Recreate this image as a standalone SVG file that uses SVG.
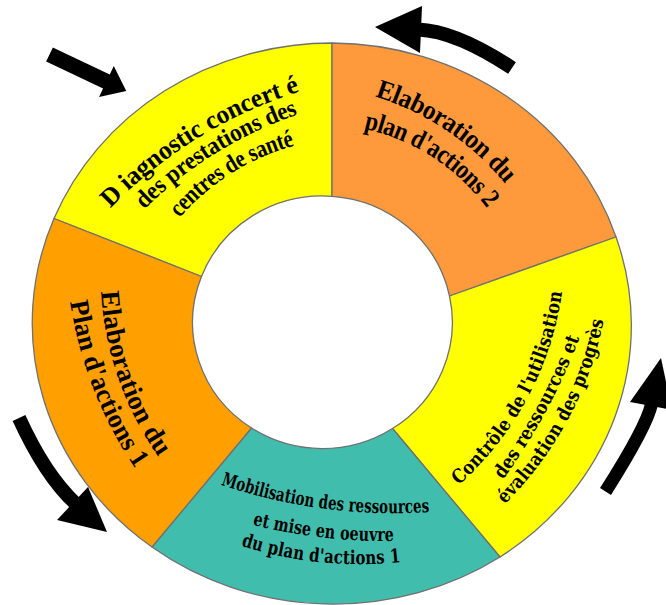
<svg xmlns="http://www.w3.org/2000/svg" width="666" height="605" viewBox="0 0 666 605">
<defs>
<style>
.seg { stroke:#707070; stroke-width:1.3; stroke-linejoin:round; }
.t { font-family:"Liberation Serif","Times New Roman",serif; font-weight:bold; fill:#000; dominant-baseline:central; }
.t2 { font-family:"DejaVu Serif","Liberation Serif",serif; font-weight:bold; fill:#000; dominant-baseline:central; }
.shaft { fill:none; stroke:#000; stroke-linecap:butt; }
.head { fill:#000; }
</style>
<path id="p1a" d="M104,202 A460,460 0 0 1 297,83"/>
<path id="p1b" d="M138,203 A410,410 0 0 1 295,106"/>
<path id="p1c" d="M173,212 A240,240 0 0 1 292,137"/>
<path id="p2a" d="M378,88 A280,280 0 0 1 512,178"/>
<path id="p2b" d="M366,120 A215,215 0 0 1 494,203"/>
<path id="p3a" d="M110,291 A310,310 0 0 0 166,452"/>
<path id="p3b" d="M79,300 A400,400 0 0 0 143,464"/>
<path id="p4a" d="M223,478 A530,530 0 0 0 429,505"/>
<path id="p4b" d="M254,518 A550,550 0 0 0 394,534"/>
<path id="p4c" d="M243,539 A380,380 0 0 0 400,555"/>
<path id="p5a" d="M454,480 A310,310 0 0 0 555,291"/>
<path id="p5b" d="M497,476 A600,600 0 0 0 573,335"/>
<path id="p5c" d="M499,500 A350,350 0 0 0 597,318"/>
</defs>
<rect width="666" height="605" fill="#fff"/>

<g id="seg-diagnostic">
<path class="seg" fill="#FFFF00" d="M54,218.5 A300,280 0 0 1 332,43 L332,196.3 A129.5,126 0 0 0 201.5,276.5 Z"/>
<text class="t" font-size="26"><textPath href="#p1a" startOffset="50%" text-anchor="middle" textLength="229" lengthAdjust="spacingAndGlyphs">D iagnostic concert é</textPath></text>
<text class="t" font-size="25"><textPath href="#p1b" startOffset="50%" text-anchor="middle" textLength="186" lengthAdjust="spacingAndGlyphs">des prestations des</textPath></text>
<text class="t" font-size="25"><textPath href="#p1c" startOffset="50%" text-anchor="middle" textLength="143" lengthAdjust="spacingAndGlyphs">centres de santé</textPath></text>
</g>

<g id="seg-elaboration-2">
<path class="seg" fill="#FF9A3C" d="M332,43 A300,280 0 0 1 616,237 L449.5,296 A129.5,126 0 0 0 332,196.3 Z"/>
<text class="t" font-size="27"><textPath href="#p2a" startOffset="50%" text-anchor="middle" textLength="164" lengthAdjust="spacingAndGlyphs">Elaboration du</textPath></text>
<text class="t" font-size="27"><textPath href="#p2b" startOffset="50%" text-anchor="middle" textLength="156" lengthAdjust="spacingAndGlyphs">plan d'actions 2</textPath></text>
</g>

<g id="seg-controle">
<path class="seg" fill="#FFFF00" d="M616,237 A300,280 0 0 1 500,557 L392.5,428.5 A129.5,126 0 0 0 449.5,296 Z"/>
<text class="t2" font-size="19"><textPath href="#p5a" startOffset="50%" text-anchor="middle" textLength="219" lengthAdjust="spacingAndGlyphs">Contrôle de l'utilisation</textPath></text>
<text class="t2" font-size="19"><textPath href="#p5b" startOffset="50%" text-anchor="middle" textLength="160" lengthAdjust="spacingAndGlyphs">des ressources et</textPath></text>
<text class="t2" font-size="19"><textPath href="#p5c" startOffset="50%" text-anchor="middle" textLength="208" lengthAdjust="spacingAndGlyphs">évaluation des progrès</textPath></text>
</g>

<g id="seg-mobilisation">
<path class="seg" fill="#40BDAC" d="M500,557 A300,280 0 0 1 152,547 L251.5,428 A129.5,126 0 0 0 392.5,428.5 Z"/>
<text class="t2" font-size="19"><textPath href="#p4a" startOffset="50%" text-anchor="middle" textLength="209" lengthAdjust="spacingAndGlyphs">Mobilisation des ressources</textPath></text>
<text class="t2" font-size="19"><textPath href="#p4b" startOffset="50%" text-anchor="middle" textLength="141" lengthAdjust="spacingAndGlyphs">et mise en oeuvre</textPath></text>
<text class="t2" font-size="19"><textPath href="#p4c" startOffset="50%" text-anchor="middle" textLength="159" lengthAdjust="spacingAndGlyphs">du plan d'actions 1</textPath></text>
</g>

<g id="seg-elaboration-1">
<path class="seg" fill="#FFA000" d="M152,547 A300,280 0 0 1 54,218.5 L201.5,276.5 A129.5,126 0 0 0 251.5,428 Z"/>
<text class="t" font-size="27"><textPath href="#p3a" startOffset="50%" text-anchor="middle" textLength="173" lengthAdjust="spacingAndGlyphs">Elaboration du</textPath></text>
<text class="t" font-size="27"><textPath href="#p3b" startOffset="50%" text-anchor="middle" textLength="177" lengthAdjust="spacingAndGlyphs">Plan d'actions 1</textPath></text>
</g>

<g id="connectors">
<polygon id="arrow-1" class="head" transform="translate(49.5,54.5) rotate(25.4)" points="0,-7.8 63,-7.8 63,-17.2 85,0 63,17.2 63,7.8 0,7.8"/>
<g id="arrow-2">
<path class="shaft" stroke-width="14" d="M512,68 Q456,31 418,29.5"/>
<polygon class="head" points="422,6 375,27 420,53"/>
</g>
<g id="arrow-3">
<path class="shaft" stroke-width="14" d="M19,418 Q45,475 75,503"/>
<polygon class="head" points="57,520 107,532 88,487"/>
</g>
<g id="arrow-4">
<path class="shaft" stroke-width="13" d="M605.5,491.5 Q647,426 651.5,404"/>
<polygon class="head" points="630,402 661,358 672,410"/>
</g>
</g>
</svg>
